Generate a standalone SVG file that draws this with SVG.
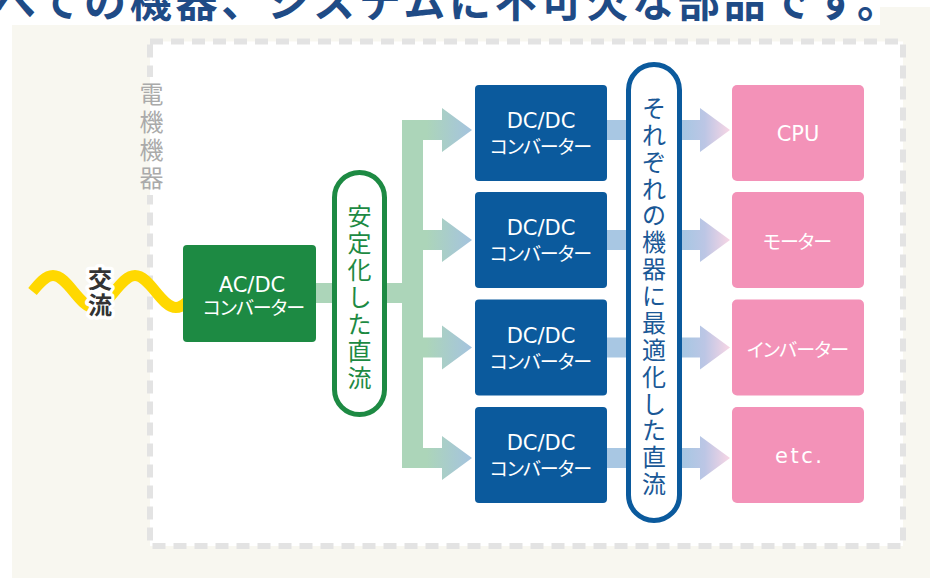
<svg xmlns="http://www.w3.org/2000/svg" width="930" height="578" viewBox="0 0 930 578">
<style>
.jp{font-family:"Noto Sans CJK JP","Noto Sans CJK SC",sans-serif;}
.lat{font-family:"DejaVu Sans","Noto Sans CJK JP",sans-serif;font-size:21px;fill:#fff;text-anchor:middle;}
.kana{font-family:"Noto Sans CJK JP",sans-serif;font-size:19px;fill:#fff;text-anchor:middle;dominant-baseline:central;font-feature-settings:"palt";}
.dcbox{fill:#0b5a9d;}
.pink{fill:#f392b8;}
.vt{font-family:"Noto Sans CJK JP",sans-serif;font-size:24px;text-anchor:middle;dominant-baseline:central;}
</style>
<defs>
<linearGradient id="g2b" gradientUnits="userSpaceOnUse" x1="402" y1="0" x2="472" y2="0">
<stop offset="0" stop-color="#acd5b9"/><stop offset="0.35" stop-color="#acd5b9"/><stop offset="1" stop-color="#a5c3df"/>
</linearGradient>
<linearGradient id="b2p" gradientUnits="userSpaceOnUse" x1="684" y1="0" x2="730" y2="0">
<stop offset="0" stop-color="#a8c7e3"/><stop offset="0.45" stop-color="#bcc6e5"/><stop offset="1" stop-color="#f8d6e5"/>
</linearGradient>
</defs>

<rect x="0" y="0" width="930" height="578" fill="#fff"/>
<rect x="12" y="7" width="918" height="571" fill="#f8f7f0"/>
<rect x="0" y="0" width="880" height="25" fill="#fff"/>
<text class="jp" x="-6" y="17" font-size="42" font-weight="bold" fill="#1f4b86" textLength="905">べての機器、システムに不可欠な部品です。</text>

<g id="frame">
<rect x="150" y="41.5" width="753" height="504.5" fill="#fff" stroke="#e3e3e3" stroke-width="6" stroke-dasharray="13 8"/>
<rect x="140" y="77" width="10" height="118" fill="#f8f7f0"/>
<rect x="150" y="77" width="12" height="118" fill="#fff"/>
<text class="vt" font-size="22" fill="#aaaaaa"><tspan x="151.5" y="92">電</tspan><tspan x="151.5" y="120">機</tspan><tspan x="151.5" y="148">機</tspan><tspan x="151.5" y="176">器</tspan></text>
</g>

<g id="ac-input">
<path d="M32.5,291.5 C39.19,283.3 45.58,275.5 53,275.5 C60.42,275.5 66.81,283.3 73.5,291.5 C80.19,299.7 86.58,307.5 94,307.5 C101.42,307.5 107.81,299.7 114.5,291.5 C121.19,283.3 127.58,275.5 135,275.5 C142.42,275.5 148.81,283.3 155.5,291.5 C162.19,299.7 168.58,307.5 176,307.5 C183.42,307.5 189.81,299.7 196.5,291.5" fill="none" stroke="#ffd800" stroke-width="11"/>
<text class="vt" font-size="24" font-weight="bold" fill="#333" stroke="#fff" stroke-width="7" stroke-linejoin="round" paint-order="stroke"><tspan x="100" y="276.5">交</tspan><tspan x="100" y="302.5">流</tspan></text>
</g>

<g id="connectors">
<rect x="313" y="283" width="100" height="20" fill="#acd5b9"/>
<rect x="402" y="120" width="21" height="348" fill="#acd5b9"/>
<path d="M402,120 H442 V108 L472,130 L442,152 V140 H402 Z" fill="url(#g2b)"/>
<path d="M402,230 H442 V218 L472,240 L442,262 V250 H402 Z" fill="url(#g2b)"/>
<path d="M402,337.5 H442 V325.5 L472,347.5 L442,369.5 V357.5 H402 Z" fill="url(#g2b)"/>
<path d="M402,448 H442 V436 L472,458 L442,480 V468 H402 Z" fill="url(#g2b)"/>
<path d="M605,120 H700 V108 L730,130 L700,152 V140 H605 Z" fill="url(#b2p)"/>
<path d="M605,230 H700 V218 L730,240 L700,262 V250 H605 Z" fill="url(#b2p)"/>
<path d="M605,337.5 H700 V325.5 L730,347.5 L700,369.5 V357.5 H605 Z" fill="url(#b2p)"/>
<path d="M605,448 H700 V436 L730,458 L700,480 V468 H605 Z" fill="url(#b2p)"/>
</g>

<g id="acdc">
<rect x="183" y="245" width="133" height="97" rx="4" fill="#1d8a43"/>
<text class="lat" x="252" y="291.5">AC/DC</text>
<text class="kana" x="254" y="306.5" textLength="102">コンバーター</text>
</g>

<g id="stable-dc">
<rect x="334.5" y="172.5" width="50" height="242" rx="25" fill="#fff" stroke="#1d8a43" stroke-width="5"/>
<text class="vt" fill="#1d8a43"><tspan x="359.5" y="214">安</tspan><tspan x="359.5" y="241">定</tspan><tspan x="359.5" y="268">化</tspan><tspan x="359.5" y="295">し</tspan><tspan x="359.5" y="322">た</tspan><tspan x="359.5" y="349">直</tspan><tspan x="359.5" y="376">流</tspan></text>
</g>

<g id="dcdc1">
<rect class="dcbox" x="475" y="85" width="132" height="96" rx="4"/>
<text class="lat" x="541" y="128">DC/DC</text>
<text class="kana" x="541" y="145.5" textLength="102">コンバーター</text>
</g>
<g id="dcdc2">
<rect class="dcbox" x="475" y="192" width="132" height="96" rx="4"/>
<text class="lat" x="541" y="235">DC/DC</text>
<text class="kana" x="541" y="252.5" textLength="102">コンバーター</text>
</g>
<g id="dcdc3">
<rect class="dcbox" x="475" y="299.5" width="132" height="96" rx="4"/>
<text class="lat" x="541" y="342.5">DC/DC</text>
<text class="kana" x="541" y="360" textLength="102">コンバーター</text>
</g>
<g id="dcdc4">
<rect class="dcbox" x="475" y="407" width="132" height="96" rx="4"/>
<text class="lat" x="541" y="450">DC/DC</text>
<text class="kana" x="541" y="467.5" textLength="102">コンバーター</text>
</g>

<g id="optimized-dc">
<rect x="628.5" y="64.5" width="51" height="456" rx="25.5" fill="#fff" stroke="#0b5a9d" stroke-width="5"/>
<text class="vt" fill="#1a5896"><tspan x="654" y="106">そ</tspan><tspan x="654" y="132.9">れ</tspan><tspan x="654" y="159.7">ぞ</tspan><tspan x="654" y="186.6">れ</tspan><tspan x="654" y="213.4">の</tspan><tspan x="654" y="240.3">機</tspan><tspan x="654" y="267.2">器</tspan><tspan x="654" y="294">に</tspan><tspan x="654" y="320.9">最</tspan><tspan x="654" y="347.7">適</tspan><tspan x="654" y="374.6">化</tspan><tspan x="654" y="401.5">し</tspan><tspan x="654" y="428.3">た</tspan><tspan x="654" y="455.2">直</tspan><tspan x="654" y="482">流</tspan></text>
</g>

<g id="cpu">
<rect class="pink" x="732" y="85" width="132" height="96" rx="5"/>
<text class="lat" x="798" y="141">CPU</text>
</g>
<g id="motor">
<rect class="pink" x="732" y="192" width="132" height="96" rx="5"/>
<text class="kana" x="797.5" y="240" textLength="69">モーター</text>
</g>
<g id="inverter">
<rect class="pink" x="732" y="299.5" width="132" height="96" rx="5"/>
<text class="kana" x="798" y="348" textLength="102">インバーター</text>
</g>
<g id="etc">
<rect class="pink" x="732" y="407" width="132" height="96" rx="5"/>
<text class="lat" x="798.5" y="463" textLength="47">etc.</text>
</g>
</svg>
